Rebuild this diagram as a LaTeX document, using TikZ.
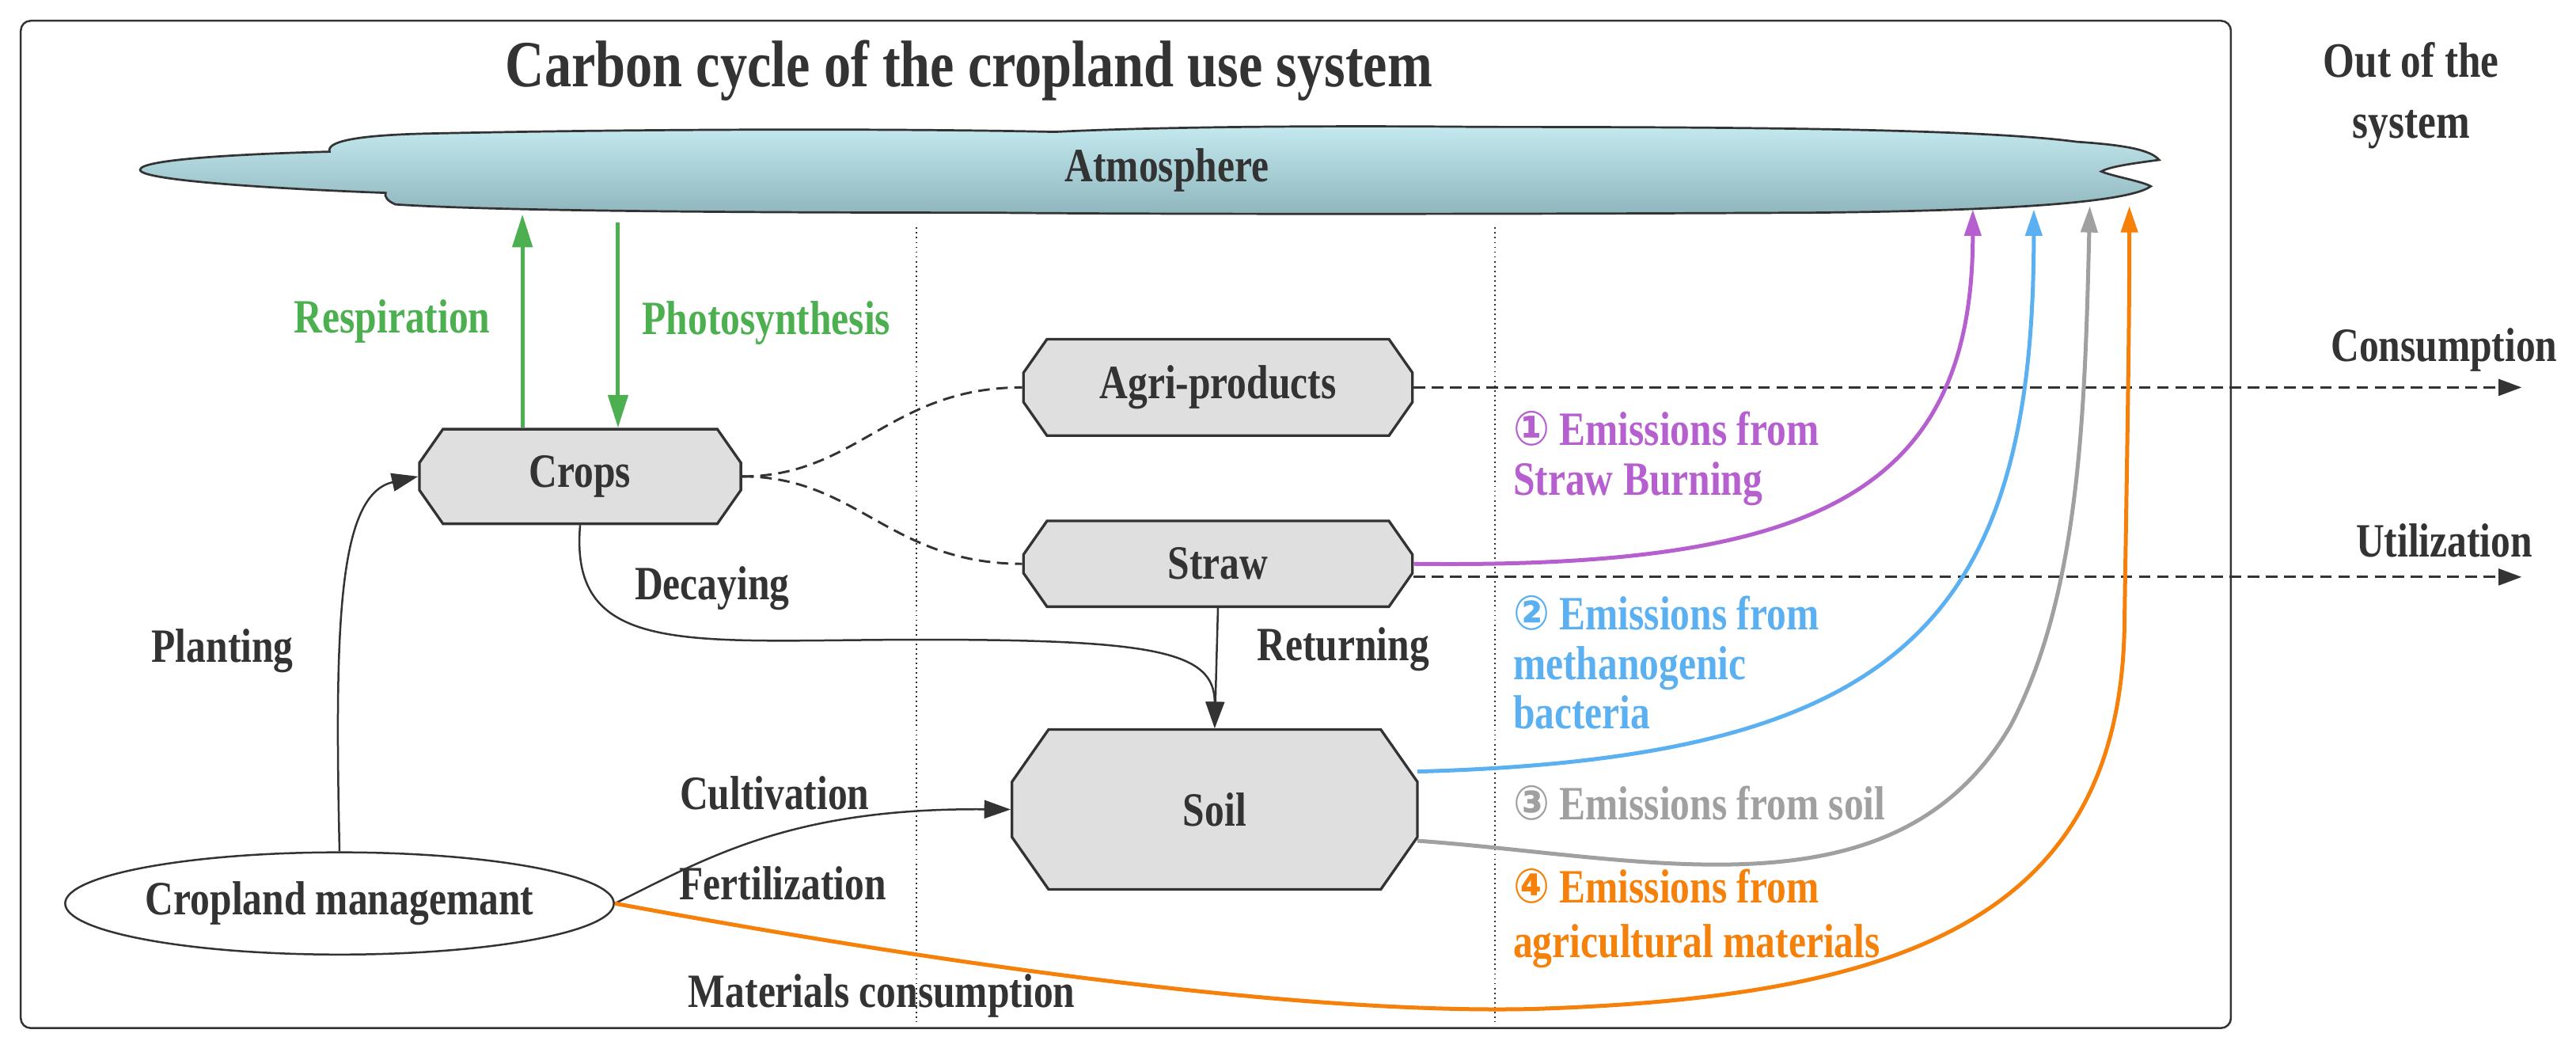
\documentclass[tikz,border=0pt]{standalone}
\usepackage{fontspec}
\setmainfont{Liberation Serif}[FakeStretch=0.82]
\newfontfamily\dv{DejaVu Sans}[FakeStretch=0.9]
\usetikzlibrary{shapes.misc,shapes.geometric,arrows.meta}
\definecolor{cgreen}{HTML}{4CAF50}
\definecolor{cpurple}{HTML}{B65FCF}
\definecolor{cblue}{HTML}{5AB0F0}
\definecolor{cgray}{HTML}{A0A0A0}
\definecolor{corange}{HTML}{F5800A}
\definecolor{ctext}{HTML}{333333}
\definecolor{cloudtop}{HTML}{C4EAF0}
\definecolor{cloudbot}{HTML}{8EB6BC}
\newcommand{\cn}[1]{{\dv #1}}
\begin{document}
\begin{tikzpicture}[x=1pt,y=-1pt,
  font=\bfseries\fontsize{29}{34}\selectfont, text=ctext,
  box/.style={chamfered rectangle, chamfered rectangle ysep=16pt,
     chamfered rectangle angle=35, fill=gray!25, draw=ctext, line width=1.6pt, inner sep=0pt},
  lbl/.style={inner sep=0pt},
  conn/.style={draw=ctext, line width=1.2pt, -{Triangle[length=16pt,width=11pt]}},
  dsh/.style={draw=ctext, line width=1.4pt, dash pattern=on 7pt off 4pt},
  em/.style={line width=2.4pt},
  tip/.style={-{Triangle[length=16pt,width=10pt]}},
  elab/.style={inner sep=0pt, anchor=west, align=left}
]
\useasboundingbox (0,0) rectangle (1563,631);
\node[draw=ctext, line width=1.2pt, rounded corners=6pt, minimum width=1341pt, minimum height=611pt, anchor=north west] (frame) at (12,12) {};
\node[lbl, font=\bfseries\fontsize{40}{44}\selectfont] (title) at (588,43) {Carbon cycle of the cropland use system};
\node[lbl, align=center, font=\bfseries\fontsize{30}{37}\selectfont] (out) at (1463,58) {Out of the\\system};
% cloud
\path[draw=ctext, line width=1.3pt, top color=cloudtop, bottom color=cloudbot]
 (85,103) .. controls (85,96) and (160,93) .. (200,92)
 .. controls (198,86) and (215,82) .. (260,81)
 .. controls (400,78) and (550,78) .. (640,80)
 .. controls (700,77) and (800,76) .. (900,77)
 .. controls (1050,77) and (1200,78) .. (1260,86)
 .. controls (1290,88) and (1305,91) .. (1310,97)
 .. controls (1295,99) and (1280,101) .. (1275,104)
 .. controls (1282,107) and (1300,110) .. (1305,113)
 .. controls (1290,124) and (1200,128) .. (1100,129)
 .. controls (900,130) and (700,130) .. (600,129)
 .. controls (450,129) and (300,128) .. (240,124)
 .. controls (235,122) and (233,119) .. (234,117)
 .. controls (180,115) and (85,110) .. (85,103) -- cycle;
\node[lbl] (atm) at (708,103) {Atmosphere};
\coordinate (resTop) at (317,130);
\coordinate (phoTop) at (375,135);
% dotted lines
\coordinate (d1a) at (556,138); \coordinate (d1b) at (556,620);
\coordinate (d2a) at (907,138); \coordinate (d2b) at (907,620);
\draw[ctext, line width=0.9pt, dotted] (d1a) -- (d1b);
\draw[ctext, line width=0.9pt, dotted] (d2a) -- (d2b);
% nodes
\node[box, minimum width=195pt, minimum height=54pt] (crops) at (352,289) {Crops};
\node[box, minimum width=236pt, minimum height=56pt] (agri) at (739,235) {Agri-products};
\node[box, minimum width=236pt, minimum height=52pt] (straw) at (739,342) {Straw};
\node[box, minimum width=246pt, minimum height=97pt, chamfered rectangle ysep=28pt] (soil) at (737,491) {Soil};
\node[ellipse, draw=ctext, line width=1.2pt, minimum width=322pt, minimum height=62pt, inner sep=0pt] (cm) at (206,548) {Cropland managemant};
% green
\draw[cgreen, line width=2.4pt, -{Triangle[length=20pt,width=12pt]}] (crops.north -| resTop) -- (resTop);
\draw[cgreen, line width=2.4pt, -{Triangle[length=20pt,width=12pt]}] (phoTop) -- (crops.north -| phoTop);
\node[lbl, text=cgreen] (resp) at (238,195) {Respiration};
\node[lbl, text=cgreen] (photo) at (465,196) {Photosynthesis};
% black connectors
\draw[conn] (cm.north) .. controls (203,380) and (205,300) .. (crops.west);
\node[lbl] (plant) at (135,395) {Planting};
\draw[conn] (crops.south) .. controls (345,400) and (420,388) .. (560,388) .. controls (700,388) and (737,395) .. (soil.north);
\node[lbl] (decay) at (432,357) {Decaying};
\draw[conn] (straw.south) -- (soil.north);
\node[lbl] (ret) at (815,394) {Returning};
\draw[conn] (cm.east) .. controls (430,520) and (480,490) .. (soil.west);
\node[lbl] (cult) at (470,481) {Cultivation};
\node[lbl] (fert) at (475,536) {Fertilization};
\node[lbl] (mat) at (535,604) {Materials consumption};
% dashed
\draw[dsh] (crops.east) .. controls (520,289) and (540,235) .. (agri.west);
\draw[dsh] (crops.east) .. controls (520,289) and (540,342) .. (straw.west);
\coordinate (cons) at (1530,235);
\coordinate (util) at (1530,350);
\draw[dsh, -{Triangle[length=14pt,width=10pt]}] (agri.east) -- (cons);
\draw[dsh, -{Triangle[length=14pt,width=10pt]}] (straw.east |- util) -- (util);
\node[lbl] (consl) at (1483,212) {Consumption};
\node[lbl] (utill) at (1483,328) {Utilization};
% emissions
\coordinate (pT) at (1197,127);
\coordinate (bT) at (1234,127);
\coordinate (gT) at (1268,125);
\coordinate (oT) at (1292,125);
\draw[em, cpurple, tip] (straw.east) .. controls (1100,345) and (1197,300) .. (pT);
\draw[em, cblue, tip] (860,468) .. controls (1150,460) and (1234,380) .. (bT);
\draw[em, cgray, tip] (860,510) .. controls (1000,520) and (1150,560) .. (1220,440) .. controls (1262,360) and (1265,250) .. (gT);
\draw[em, corange, tip] (cm.east) .. controls (600,590) and (800,615) .. (930,612) .. controls (1150,605) and (1286,560) .. (1289,380) .. controls (1291,250) and (1292,200) .. (oT);
\node[elab, text=cpurple, font=\bfseries\fontsize{29}{30}\selectfont] (e1) at (918,278) {\cn{①} Emissions from\\Straw Burning};
\node[elab, text=cblue, font=\bfseries\fontsize{29}{30}\selectfont] (e2) at (918,402) {\cn{②} Emissions from\\methanogenic\\bacteria};
\node[elab, text=cgray] (e3) at (918,487) {\cn{③} Emissions from soil};
\node[elab, text=corange, font=\bfseries\fontsize{29}{33}\selectfont] (e4) at (918,557) {\cn{④} Emissions from\\agricultural materials};
\end{tikzpicture}
\end{document}
